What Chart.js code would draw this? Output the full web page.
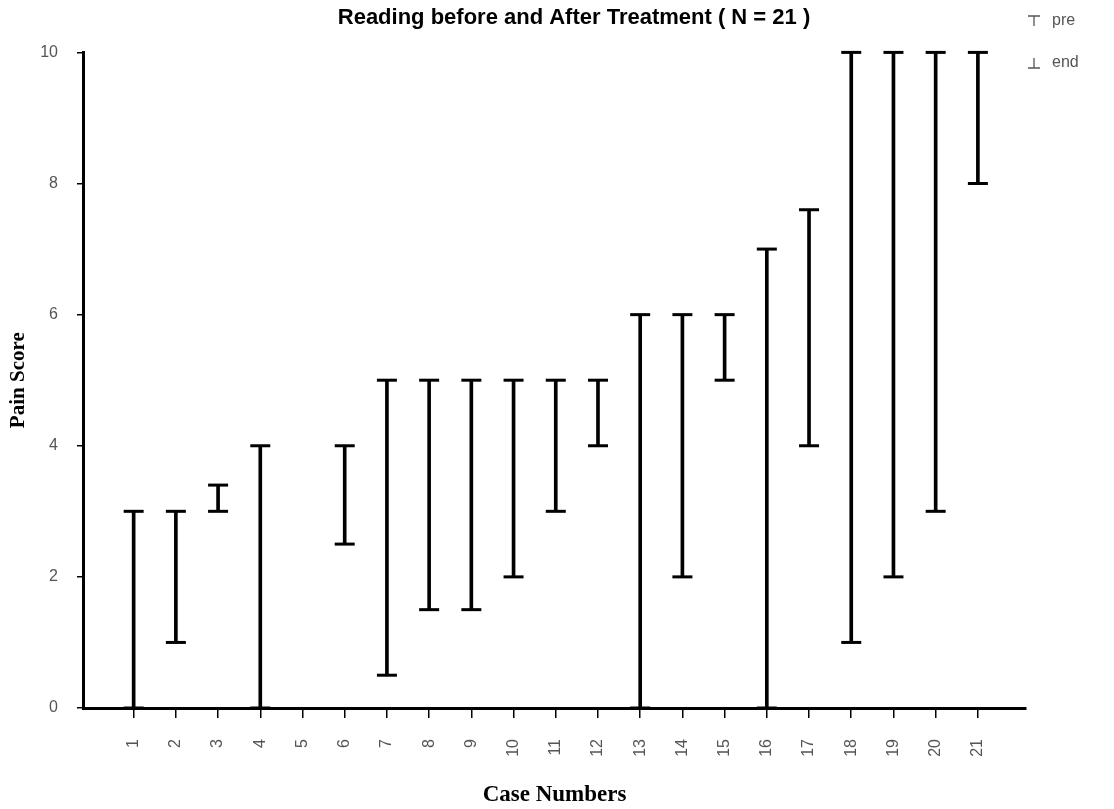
<!DOCTYPE html>
<html>
<head>
<meta charset="utf-8">
<title>Reading before and After Treatment</title>
<script src="https://cdn.jsdelivr.net/npm/chart.js@4.4.1/dist/chart.umd.min.js"></script>
<style>
  html, body { margin: 0; padding: 0; background: #fff; }
  #wrap { width: 1114px; height: 809px; position: relative; }
</style>
</head>
<body>
<div id="wrap"><canvas id="painChart"></canvas></div>
<script>
// Dados: escore de dor antes (pre) e no final (end) por caso
const caseNumbers = [1, 2, 3, 4, 5, 6, 7, 8, 9, 10, 11, 12, 13, 14, 15, 16, 17, 18, 19, 20, 21];
const preScores = [3, 3, 3.4, 4, null, 4, 5, 5, 5, 5, 5, 5, 6, 6, 6, 7, 7.6, 10, 10, 10, 10];
const endScores = [0, 1, 3, 0, null, 2.5, 0.5, 1.5, 1.5, 2, 3, 4, 0, 2, 5, 0, 4, 1, 2, 3, 8];
const yTicks = [0, 2, 4, 6, 8, 10];

const tickFont = { family: '"Liberation Sans", Arial, sans-serif', size: 16 };
const tickColor = '#555';

// Título um pouco deslocado para a direita, como no original
const titleShift = {
  id: 'titleShift',
  afterLayout(chart) {
    const t = chart.titleBlock;
    if (t) {
      t.left = 122;
      t.right = 1026;
    }
  }
};

// Legenda desenhada à direita, no alto (símbolos ⊤ e ⊥ como no original)
const capLegend = {
  id: 'capLegend',
  afterDraw(chart) {
    const { ctx, chartArea } = chart;
    const items = chart.data.datasets.filter(d => d.legendMark);
    ctx.save();
    ctx.font = '16px "Liberation Sans", Arial, sans-serif';
    ctx.fillStyle = tickColor;
    ctx.strokeStyle = tickColor;
    ctx.lineWidth = 1.3;
    ctx.textBaseline = 'middle';
    items.forEach((ds, i) => {
      const x = chartArea.right + 8;
      const y = 21 + i * 42;
      const capY = ds.legendMark === 'top' ? y - 5 : y + 5;
      ctx.beginPath();
      ctx.moveTo(x - 6, capY);
      ctx.lineTo(x + 6, capY);
      ctx.moveTo(x, y - 5);
      ctx.lineTo(x, y + 5);
      ctx.stroke();
      ctx.fillText(ds.label, x + 18, y);
    });
    ctx.restore();
  }
};

const stems = caseNumbers.map((c, i) =>
  preScores[i] === null ? { x: c, y: null } : { x: c, y: [endScores[i], preScores[i]] });
const prePoints = caseNumbers.map((c, i) => ({ x: c, y: preScores[i] }));
const endPoints = caseNumbers.map((c, i) => ({ x: c, y: endScores[i] }));

const ctx = document.getElementById('painChart').getContext('2d');
new Chart(ctx, {
  type: 'bar',
  data: {
    datasets: [
      {
        label: 'pre',
        legendMark: 'top',
        type: 'line',
        showLine: false,
        data: prePoints,
        pointStyle: 'line',
        pointRadius: 10,
        pointBorderWidth: 3,
        borderColor: '#000',
        backgroundColor: '#000',
        clip: false
      },
      {
        label: 'end',
        legendMark: 'bottom',
        type: 'line',
        showLine: false,
        data: endPoints,
        pointStyle: 'line',
        pointRadius: 10,
        pointBorderWidth: 3,
        borderColor: '#000',
        backgroundColor: '#000',
        clip: false
      },
      {
        label: 'range',
        data: stems,
        backgroundColor: '#000',
        borderWidth: 0,
        barThickness: 3,
        grouped: false,
        clip: false
      }
    ]
  },
  options: {
    responsive: true,
    maintainAspectRatio: false,
    animation: false,
    layout: { padding: { right: 88 } },
    plugins: {
      legend: { display: false },
      tooltip: { enabled: false },
      title: {
        display: true,
        text: 'Reading before and After Treatment ( N = 21 )',
        color: '#000',
        font: { family: '"Liberation Sans", Arial, sans-serif', size: 22, weight: 'bold' },
        padding: { top: 5, bottom: 21 }
      }
    },
    scales: {
      x: {
        type: 'linear',
        min: -0.2,
        max: 22.14,
        offset: false,
        afterBuildTicks(scale) {
          scale.ticks = caseNumbers.map(v => ({ value: v }));
        },
        afterFit(scale) {
          scale.height = 101;
        },
        ticks: {
          autoSkip: false,
          maxRotation: 90,
          minRotation: 90,
          padding: 21,
          color: tickColor,
          font: tickFont
        },
        grid: {
          offset: false,
          drawOnChartArea: false,
          drawTicks: true,
          tickLength: 10,
          color: '#000',
          lineWidth: 1.5
        },
        border: { color: '#000', width: 3 },
        title: {
          display: true,
          text: 'Case Numbers',
          color: '#000',
          font: { family: '"Liberation Serif", "Times New Roman", serif', size: 23, weight: 'bold' },
          padding: { top: 0, bottom: 0 }
        }
      },
      y: {
        min: 0,
        max: 10,
        afterBuildTicks(scale) {
          scale.ticks = yTicks.map(v => ({ value: v }));
        },
        afterFit(scale) {
          scale.width = 83;
        },
        ticks: {
          padding: 19,
          color: tickColor,
          font: tickFont
        },
        grid: {
          drawOnChartArea: false,
          drawTicks: true,
          tickLength: 6,
          color: '#000',
          lineWidth: 1.5
        },
        border: { color: '#000', width: 3 },
        title: {
          display: true,
          text: 'Pain Score',
          color: '#000',
          font: { family: '"Liberation Serif", "Times New Roman", serif', size: 21, weight: 'bold' },
          padding: { top: 6, bottom: 0 }
        }
      }
    }
  },
  plugins: [titleShift, capLegend]
});
</script>
</body>
</html>
